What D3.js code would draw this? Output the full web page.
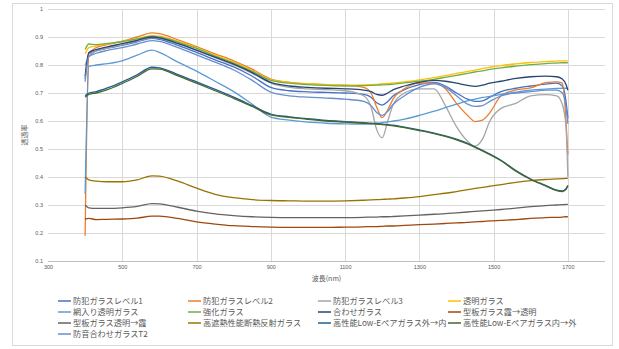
<!DOCTYPE html>
<html>
<head>
<meta charset="utf-8">
<script src="https://cdn.jsdelivr.net/npm/d3@7"></script>
<style>
  body { margin: 0; background: #fff; }
  svg { display: block; font-family: "Noto Sans CJK JP", "Noto Sans", sans-serif; }
</style>
</head>
<body>
<svg id="chart" width="619" height="349"></svg>
<script>
// wavelength (nm) sample points shared by all series
const wavelengths = [400, 410, 430, 460, 500, 540, 580, 600, 650, 700, 750, 800, 850, 900,
  950, 1000, 1050, 1100, 1150, 1170, 1185, 1200, 1215, 1230, 1260, 1300, 1340, 1370, 1400,
  1430, 1450, 1470, 1490, 1520, 1560, 1600, 1640, 1670, 1685, 1695, 1700];

const xTicks = [300, 500, 700, 900, 1100, 1300, 1500, 1700];
const yTicks = [0.1, 0.2, 0.3, 0.4, 0.5, 0.6, 0.7, 0.8, 0.9, 1];

const seriesNames = [
  '防犯ガラスレベル1', '防犯ガラスレベル2', '防犯ガラスレベル3', '透明ガラス',
  '網入り透明ガラス', '強化ガラス', '合わせガラス', '型板ガラス霞→透明',
  '型板ガラス透明→霞', '高遮熱性能断熱反射ガラス', '高性能Low-Eペアガラス外→内', '高性能Low-Eペアガラス内→外',
  '防音合わせガラスT2'
];
const seriesColors = ['#4472C4', '#ED7D31', '#A5A5A5', '#FFC000', '#5B9BD5', '#70AD47',
  '#264478', '#9E480E', '#636363', '#997300', '#255E91', '#43682B', '#698ED0'];

const bohan1 = [0.75, 0.84, 0.85, 0.86, 0.87, 0.883, 0.895, 0.892, 0.87, 0.845, 0.818, 0.793, 0.76, 0.72,
  0.708, 0.704, 0.702, 0.70, 0.695, 0.685, 0.665, 0.657, 0.67, 0.69, 0.712, 0.73, 0.738, 0.725, 0.70,
  0.678, 0.67, 0.672, 0.685, 0.705, 0.717, 0.725, 0.732, 0.735, 0.725, 0.67, 0.61];
const bohan2 = [0.19, 0.84, 0.862, 0.873, 0.885, 0.9, 0.915, 0.912, 0.89, 0.866, 0.84, 0.815, 0.785, 0.75,
  0.738, 0.733, 0.73, 0.728, 0.72, 0.70, 0.65, 0.612, 0.64, 0.68, 0.715, 0.735, 0.735, 0.715, 0.663,
  0.62, 0.598, 0.603, 0.63, 0.69, 0.711, 0.718, 0.737, 0.74, 0.735, 0.6, 0.48];
const bohan3 = [0.80, 0.83, 0.85, 0.86, 0.872, 0.885, 0.898, 0.895, 0.875, 0.852, 0.826, 0.80, 0.77, 0.735,
  0.72, 0.715, 0.712, 0.708, 0.69, 0.65, 0.57, 0.54, 0.60, 0.66, 0.70, 0.715, 0.715, 0.655, 0.58,
  0.528, 0.51, 0.535, 0.60, 0.645, 0.663, 0.69, 0.694, 0.69, 0.66, 0.58, 0.40];
const toumei = [0.84, 0.862, 0.868, 0.875, 0.884, 0.894, 0.905, 0.903, 0.885, 0.862, 0.835, 0.81, 0.78, 0.748,
  0.738, 0.733, 0.73, 0.728, 0.729, 0.73, 0.731, 0.733, 0.734, 0.736, 0.74, 0.747, 0.755, 0.762, 0.77,
  0.777, 0.782, 0.787, 0.792, 0.798, 0.804, 0.809, 0.812, 0.814, 0.815, 0.815, 0.815];
const amiiri = [0.34, 0.795, 0.80, 0.805, 0.815, 0.835, 0.853, 0.845, 0.81, 0.778, 0.742, 0.705, 0.66, 0.614,
  0.603, 0.596, 0.592, 0.59, 0.589, 0.59, 0.592, 0.594, 0.597, 0.60, 0.607, 0.62, 0.635, 0.648, 0.66,
  0.672, 0.678, 0.684, 0.688, 0.695, 0.703, 0.71, 0.714, 0.716, 0.717, 0.717, 0.717];
const kyouka = [0.855, 0.875, 0.873, 0.877, 0.883, 0.893, 0.903, 0.90, 0.882, 0.859, 0.832, 0.807, 0.777, 0.745,
  0.735, 0.73, 0.727, 0.725, 0.726, 0.727, 0.728, 0.729, 0.73, 0.732, 0.736, 0.742, 0.749, 0.756, 0.763,
  0.77, 0.775, 0.779, 0.784, 0.79, 0.796, 0.801, 0.805, 0.807, 0.808, 0.808, 0.808];
const awase = [0.76, 0.845, 0.855, 0.865, 0.876, 0.888, 0.90, 0.897, 0.877, 0.853, 0.828, 0.803, 0.773, 0.738,
  0.725, 0.72, 0.717, 0.715, 0.71, 0.705, 0.695, 0.692, 0.70, 0.712, 0.725, 0.738, 0.745, 0.742, 0.735,
  0.727, 0.724, 0.728, 0.735, 0.742, 0.752, 0.758, 0.76, 0.758, 0.75, 0.73, 0.71];
const kataKasumiToumei = [0.25, 0.252, 0.248, 0.249, 0.25, 0.253, 0.26, 0.26, 0.252, 0.24, 0.232, 0.226, 0.223, 0.221,
  0.22, 0.22, 0.22, 0.221, 0.222, 0.223, 0.223, 0.224, 0.225, 0.225, 0.227, 0.23, 0.232, 0.234, 0.236,
  0.238, 0.24, 0.241, 0.243, 0.245, 0.248, 0.252, 0.255, 0.256, 0.257, 0.258, 0.258];
const kataToumeiKasumi = [0.30, 0.29, 0.288, 0.288, 0.29, 0.295, 0.305, 0.304, 0.292, 0.278, 0.268, 0.262, 0.258, 0.256,
  0.255, 0.255, 0.255, 0.255, 0.256, 0.257, 0.257, 0.258, 0.258, 0.259, 0.261, 0.264, 0.267, 0.269, 0.272,
  0.275, 0.277, 0.279, 0.281, 0.284, 0.289, 0.294, 0.298, 0.30, 0.301, 0.302, 0.302];
const koushanetsu = [0.40, 0.39, 0.385, 0.383, 0.383, 0.39, 0.404, 0.403, 0.385, 0.36, 0.338, 0.326, 0.319, 0.316,
  0.315, 0.314, 0.314, 0.315, 0.317, 0.318, 0.319, 0.32, 0.321, 0.322, 0.325, 0.33, 0.337, 0.342, 0.348,
  0.355, 0.359, 0.363, 0.367, 0.373, 0.381, 0.387, 0.391, 0.393, 0.394, 0.395, 0.395];
const lowESotoUchi = [0.69, 0.70, 0.705, 0.718, 0.74, 0.765, 0.792, 0.79, 0.766, 0.74, 0.713, 0.685, 0.655, 0.625,
  0.615, 0.608, 0.602, 0.598, 0.594, 0.592, 0.591, 0.589, 0.587, 0.585, 0.578, 0.568, 0.557, 0.547, 0.535,
  0.52, 0.508, 0.495, 0.482, 0.46, 0.423, 0.393, 0.37, 0.353, 0.35, 0.358, 0.37];
const lowEUchiSoto = [0.685, 0.695, 0.70, 0.712, 0.734, 0.759, 0.786, 0.785, 0.761, 0.735, 0.708, 0.681, 0.652, 0.622,
  0.613, 0.606, 0.6, 0.596, 0.592, 0.59, 0.589, 0.587, 0.585, 0.583, 0.576, 0.566, 0.555, 0.545, 0.533,
  0.518, 0.506, 0.493, 0.48, 0.458, 0.421, 0.391, 0.368, 0.351, 0.348, 0.356, 0.368];
const bouonT2 = [0.74, 0.83, 0.842, 0.852, 0.862, 0.875, 0.887, 0.884, 0.862, 0.836, 0.81, 0.782, 0.745, 0.703,
  0.69, 0.685, 0.682, 0.678, 0.67, 0.655, 0.63, 0.62, 0.635, 0.66, 0.69, 0.72, 0.733, 0.72, 0.69,
  0.66, 0.652, 0.655, 0.67, 0.69, 0.70, 0.705, 0.71, 0.71, 0.70, 0.65, 0.59];

const seriesValues = [bohan1, bohan2, bohan3, toumei, amiiri, kyouka, awase,
  kataKasumiToumei, kataToumeiKasumi, koushanetsu, lowESotoUchi, lowEUchiSoto, bouonT2];

const series = seriesNames.map((name, i) => ({
  name: name,
  color: seriesColors[i],
  points: wavelengths.map((w, j) => ({x: w, y: seriesValues[i][j]}))
}));

const svg = d3.select('#chart');
const plot = {left: 48, right: 605, top: 9, bottom: 261};

// outer chart frame
svg.append('rect')
  .attr('x', 12.5).attr('y', 3.5)
  .attr('width', 600).attr('height', 342)
  .attr('fill', '#fff').attr('stroke', '#d9d9d9');

const x = d3.scaleLinear().domain([300, 1800]).range([plot.left, plot.right]);
const y = d3.scaleLinear().domain([0.1, 1]).range([plot.bottom, plot.top]);

// grid
const grid = svg.append('g');
grid.selectAll('.hg').data(yTicks).enter().append('line')
  .attr('x1', plot.left).attr('x2', plot.right)
  .attr('y1', d => Math.round(y(d)) + 0.5).attr('y2', d => Math.round(y(d)) + 0.5)
  .attr('stroke', d => d === 0.1 ? '#bfbfbf' : '#d9d9d9').attr('stroke-width', 1);
grid.selectAll('.vg').data(xTicks.filter(d => d > 300)).enter().append('line')
  .attr('y1', plot.top).attr('y2', plot.bottom)
  .attr('x1', d => Math.round(x(d)) + 0.5).attr('x2', d => Math.round(x(d)) + 0.5)
  .attr('stroke', '#d9d9d9').attr('stroke-width', 1);

// axes labels
const xAxis = d3.axisBottom(x).tickValues(xTicks).tickSize(0).tickPadding(4).tickFormat(d3.format('d'));
const gx = svg.append('g').attr('transform', `translate(0,${plot.bottom})`).call(xAxis);
gx.select('.domain').remove();
gx.selectAll('text').attr('fill', '#595959').attr('font-size', 5.5);

const yAxis = d3.axisLeft(y).tickValues(yTicks).tickSize(0).tickPadding(5)
  .tickFormat(d => d === 1 ? '1' : d3.format('.1f')(d));
const gy = svg.append('g').attr('transform', `translate(${plot.left},0)`).call(yAxis);
gy.select('.domain').remove();
gy.selectAll('text').attr('fill', '#595959').attr('font-size', 5.5);

// series lines
const line = d3.line().x(d => x(d.x)).y(d => y(d.y)).curve(d3.curveMonotoneX);
svg.append('g').selectAll('path').data(series).enter().append('path')
  .attr('d', d => line(d.points))
  .attr('fill', 'none')
  .attr('stroke', d => d.color)
  .attr('stroke-width', 1.3)
  .attr('stroke-linejoin', 'round');

// axis titles
svg.append('text')
  .attr('x', (plot.left + plot.right) / 2).attr('y', 281)
  .attr('text-anchor', 'middle').attr('font-size', 7).attr('fill', '#595959')
  .text('波長(nm)');
svg.append('text')
  .attr('transform', `translate(27,${(plot.top + plot.bottom) / 2}) rotate(-90)`)
  .attr('text-anchor', 'middle').attr('font-size', 7).attr('fill', '#595959')
  .text('透過率');

// legend
const legend = svg.append('g');
const items = legend.selectAll('g').data(series).enter().append('g')
  .attr('transform', (d, i) => `translate(${58 + (i % 4) * 130},${301 + Math.floor(i / 4) * 11})`);
items.append('line').attr('x1', 0).attr('x2', 13).attr('y1', 0).attr('y2', 0)
  .attr('stroke', d => d.color).attr('stroke-width', 1.5);
items.append('text').attr('x', 15).attr('y', 3)
  .attr('font-size', 8.2).attr('fill', '#595959')
  .text(d => d.name);
</script>
</body>
</html>
